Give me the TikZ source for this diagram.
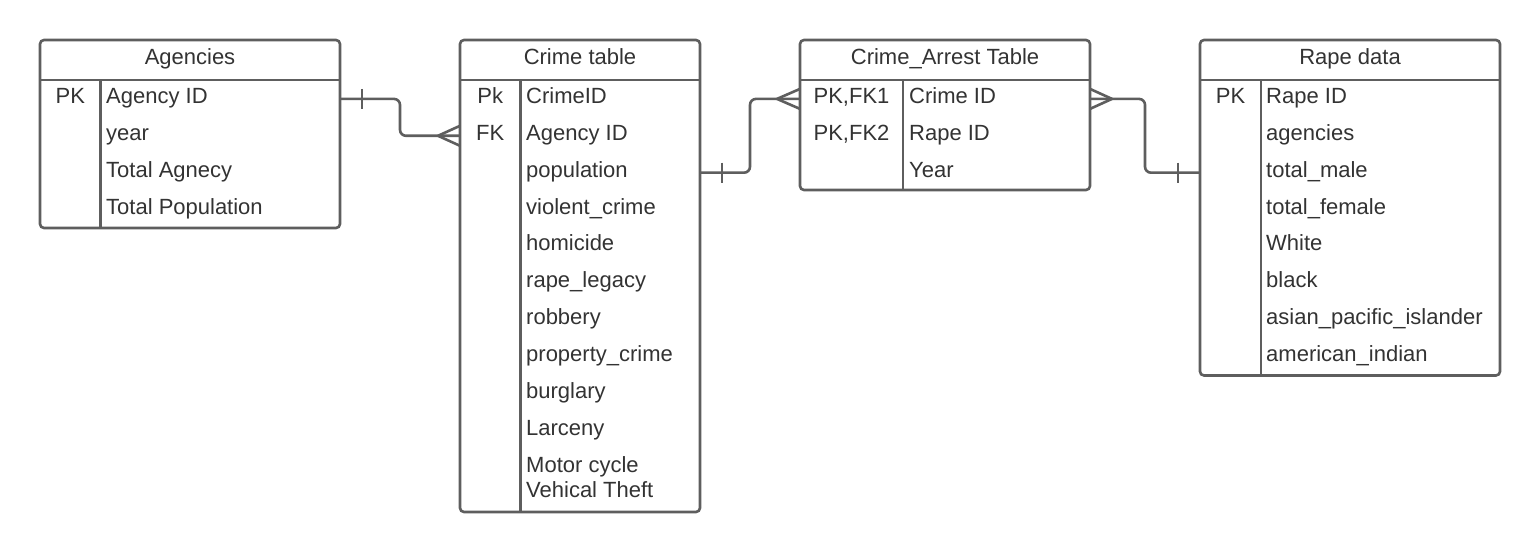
\documentclass[tikz,border=0pt]{standalone}
\usepackage{fontspec}
\setmainfont{Liberation Sans}
\usetikzlibrary{calc}

\definecolor{edge}{HTML}{5E5E5E}
\definecolor{ink}{HTML}{333333}

\tikzset{
  ln/.style={draw=edge, line width=2.6pt},
  tbl/.style={ln, rounded corners=4pt, inner sep=0pt, outer sep=0pt, anchor=north west},
  title/.style={text=ink, font=\fontsize{22}{25}\selectfont, anchor=base, inner sep=0pt},
  field/.style={text=ink, font=\fontsize{22}{25}\selectfont, anchor=west, inner sep=0pt, text height=14pt, text depth=5pt},
  key/.style={field, anchor=center},
  one/.style={ln},
  many/.style={ln},
}

\begin{document}
\begin{tikzpicture}[x=1pt, y=-1pt]
\useasboundingbox[fill=white] (0,0) rectangle (1540,553);

% tables
\node[tbl, minimum width=300pt, minimum height=188pt] (ag) at (40,40) {};
\node[tbl, minimum width=240pt, minimum height=472pt] (cr) at (460,40) {};
\node[tbl, minimum width=290pt, minimum height=150pt] (ca) at (800,40) {};
\node[tbl, minimum width=300pt, minimum height=335.5pt] (rd) at (1200,40) {};

\foreach \t/\d in {ag/60.5, cr/60.5, ca/103, rd/61} {
  \draw[ln] ([yshift=-40pt]\t.north west) -- ([yshift=-40pt]\t.north east);
  \draw[ln] ([shift={(\d pt,-40pt)}]\t.north west) -- ([xshift=\d pt]\t.south west);
}

\node[title] (agt) at (190,65) {Agencies};
\node[title] (crt) at (580,65) {Crime table};
\node[title] (cat) at (945,65) {Crime\_Arrest Table};
\node[title] (rdt) at (1350,65) {Rape data};

\foreach \f [count=\i] in {Agency ID, year, Total Agnecy, Total Population}
  \node[field] (ag\i) at (106,{62+36.9*\i}) {\f};
\node[key] (agk1) at (70.3,98.9) {PK};

\foreach \f [count=\i] in {CrimeID, Agency ID, population, violent\_crime, homicide,
    rape\_legacy, robbery, property\_crime, burglary, Larceny, Motor cycle}
  \node[field] (cr\i) at (526,{62+36.9*\i}) {\f};
\node[field, anchor=base west] (cr12) at ([yshift=-25pt]cr11.base west) {Vehical Theft};
\node[key] (crk1) at (490.3,98.9) {Pk};
\node[key] (crk2) at (490.3,135.8) {FK};

\foreach \f [count=\i] in {Crime ID, Rape ID, Year}
  \node[field] (ca\i) at (909,{62+36.9*\i}) {\f};
\node[key] (cak1) at (851.5,98.9) {PK,FK1};
\node[key] (cak2) at (851.5,135.8) {PK,FK2};

\foreach \f [count=\i] in {Rape ID, agencies, total\_male, total\_female, White, black,
    asian\_pacific\_islander, american\_indian}
  \node[field] (rd\i) at (1266,{62+36.9*\i}) {\f};
\node[key] (rdk1) at (1230.5,98.9) {PK};

% relations
\draw[ln, rounded corners=6pt] (ag.east |- ag1) -| ($(ag.east |- ag1)!.5!(cr.west |- cr2)$) |- (cr.west |- cr2);
\draw[one] (ag.east |- ag1) ++(22,-10) -- ++(0,20);
\draw[many] (cr.west |- cr2) ++(-22,0) -- ++(22,-10) ++(-22,10) -- ++(22,10);

\draw[ln, rounded corners=6pt] (cr.east |- cr3) -| ($(cr.east |- cr3)!.5!(ca.west |- ca1)$) |- (ca.west |- ca1);
\draw[one] (cr.east |- cr3) ++(22,-10) -- ++(0,20);
\draw[many] (ca.west |- ca1) ++(-23,0) -- ++(23,-10) ++(-23,10) -- ++(23,10);

\draw[ln, rounded corners=6pt] (ca.east |- ca1) -| ($(ca.east |- ca1)!.5!(rd.west |- rd3)$) |- (rd.west |- rd3);
\draw[many] (ca.east |- ca1) ++(22,0) -- ++(-22,-10) ++(22,10) -- ++(-22,10);
\draw[one] (rd.west |- rd3) ++(-22,-10) -- ++(0,20);
\end{tikzpicture}
\end{document}
